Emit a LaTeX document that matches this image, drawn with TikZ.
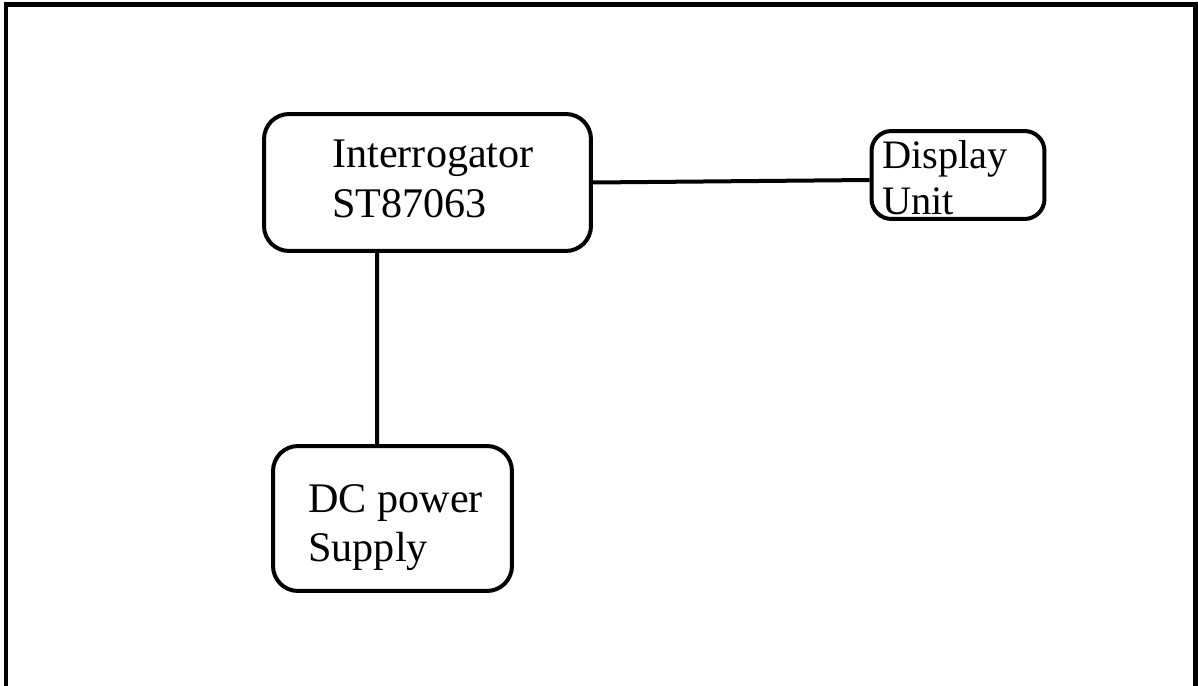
\documentclass[tikz,border=0pt]{standalone}
\usepackage{fontspec}
\setmainfont{Liberation Serif}
\usepackage{tikz}

\begin{document}
\begin{tikzpicture}[x=0.02cm, y=-0.02cm,
            blk/.style={draw, line width=0.08cm, rounded corners=0.5cm, inner sep=0pt},
            lbl/.style={anchor=north west, align=left, inner sep=0pt, font=\fontsize{24}{28}\selectfont}]
            \useasboundingbox (0,0) rectangle (1198,686);

            % Rahmen (unten offen):
            \draw[line width=0.1cm] (6,686) -- (6,5) -- (1195,5) -- (1195,686);

            % Bloecke:
            \node[blk, minimum width=6.54cm, minimum height=2.74cm] (intg) at (427.5,182.5) {};
            \node[blk, minimum width=3.46cm, minimum height=1.76cm, rounded corners=0.4cm] (disp) at (958,175) {};
            \node[blk, minimum width=4.78cm, minimum height=2.9cm] (dc) at (392.5,518.5) {};

            \node[lbl] (intgtext) at (332,140) {Interrogator\\ST87063};
            \node[lbl, font=\fontsize{23}{26}\selectfont] (disptext) at (882,140) {Display\\Unit};
            \node[lbl] (dctext) at (308,484) {DC power\\Supply};

            % Verbindungen:
            \draw[line width=0.08cm] (intg.east) -- ([yshift=-0.1cm]disp.west);
            \draw[line width=0.08cm] ([xshift=-1.01cm]intg.south) -- ([xshift=-0.31cm]dc.north);
\end{tikzpicture}
\end{document}
